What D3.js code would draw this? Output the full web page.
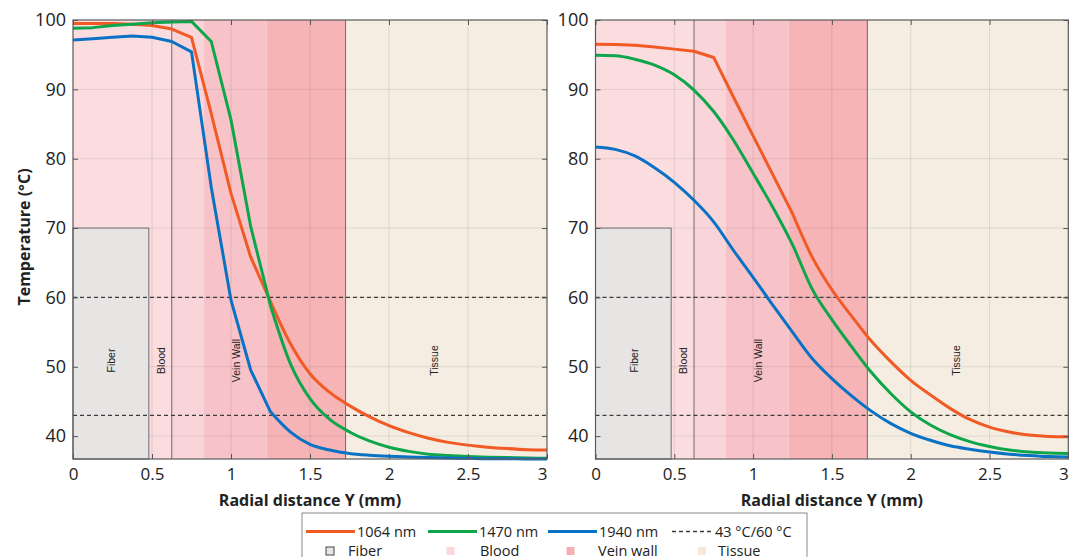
<!DOCTYPE html>
<html><head><meta charset="utf-8">
<script src="https://cdn.jsdelivr.net/npm/d3@7"></script>
<style>
html,body{margin:0;padding:0;background:#fff;}
svg{display:block;font-family:"Open Sans","Noto Sans",sans-serif;}
</style></head>
<body>
<svg id="c" width="1069" height="557"></svg>
<script>
// ---------- data ----------
const radialX = [0,0.125,0.25,0.375,0.5,0.625,0.75,0.875,1.0,1.125,1.25,1.375,1.5,1.625,1.75,1.875,2.0,2.125,2.25,2.375,2.5,2.625,2.75,2.875,3.0];
const seriesNames = ["1064 nm","1470 nm","1940 nm"];
// left panel
const left1064 = [99.5,99.5,99.5,99.4,99.2,98.7,97.5,86.5,75.0,65.8,59.4,53.4,49.0,46.3,44.4,42.8,41.5,40.5,39.7,39.1,38.7,38.4,38.2,38.05,38.0];
const left1470 = [98.8,98.9,99.2,99.4,99.6,99.7,99.8,96.9,85.6,70.2,58.8,50.5,45.4,42.4,40.6,39.3,38.4,37.8,37.4,37.2,37.05,36.95,36.9,36.85,36.8];
const left1940 = [97.1,97.3,97.5,97.7,97.5,96.9,95.4,75.9,59.6,49.5,43.5,40.6,38.8,38.0,37.5,37.25,37.1,37.0,36.9,36.85,36.8,36.75,36.75,36.7,36.7];
// right panel
const right1064 = [96.5,96.45,96.35,96.1,95.8,95.5,94.6,88.9,83.3,77.7,72.1,65.8,61.1,57.3,53.7,50.7,48.05,45.95,44.0,42.4,41.3,40.6,40.15,39.95,39.9];
const right1470 = [94.9,94.85,94.35,93.5,92.1,89.9,86.8,82.7,77.9,73.0,67.6,61.2,56.8,52.9,49.2,46.1,43.5,41.6,40.2,39.2,38.5,38.0,37.7,37.55,37.5];
const right1940 = [81.7,81.35,80.4,78.7,76.6,74.0,70.9,66.8,62.9,58.9,55.0,51.2,48.3,45.8,43.6,41.8,40.4,39.4,38.6,38.1,37.7,37.4,37.2,37.05,37.0];
// tissue layers (mm)
const regionStart = [0,0.625,0.825,1.225,1.725];
const regionEnd   = [0.625,0.825,1.225,1.725,3.0];
const fiberRadius = 0.48;
const fiberTop = 70;
const thresholds = [43,60];
const xTicks = [0,0.5,1,1.5,2,2.5,3];
const yTicks = [40,50,60,70,80,90,100];
const labelNames = ["Fiber","Blood","Vein Wall","Tissue"];
const labelPosX = [0.245,0.56,1.035,2.29];
const labelPosT = 50.9;
const legendLineNames = ["1064 nm","1470 nm","1940 nm","43 °C/60 °C"];
const legendAreaNames = ["Fiber","Blood","Vein wall","Tissue"];

// ---------- styles ----------
const lineColors = ["#f15a24","#0fa54a","#0a72c4"];
const regionColors = ["#fbdde0","#f9d5d9","#f7c3c8","#f6b4b7","#f5ede1"];
const fiberColor = "#e7e4e4";

const svg = d3.select("#c");
const y = d3.scaleLinear().domain([36.7,100]).range([459,20]);

function panel(x, data, smoothAll){
  const g = svg.append("g");
  const [x0,x1] = x.range();
  g.selectAll("rect.band").data(regionStart).enter().append("rect")
    .attr("x",(d)=>x(d)).attr("y",y(100))
    .attr("width",(d,i)=>x(regionEnd[i])-x(d)).attr("height",y(36.7)-y(100))
    .attr("fill",(d,i)=>regionColors[i]);
  g.selectAll("line.gx").data(xTicks.slice(1,-1)).enter().append("line")
    .attr("x1",d=>x(d)).attr("x2",d=>x(d)).attr("y1",y(100)).attr("y2",y(36.7))
    .attr("stroke","rgba(0,0,0,0.09)").attr("stroke-width",1);
  g.selectAll("line.gy").data(yTicks.slice(0,-1)).enter().append("line")
    .attr("x1",x0).attr("x2",x1).attr("y1",d=>y(d)).attr("y2",d=>y(d))
    .attr("stroke","rgba(0,0,0,0.09)").attr("stroke-width",1);
  g.append("rect").attr("x",x(0)).attr("y",y(fiberTop))
    .attr("width",x(fiberRadius)-x(0)).attr("height",y(36.7)-y(fiberTop))
    .attr("fill",fiberColor).attr("stroke","#6d6d6d").attr("stroke-width",1);
  [regionStart[1],regionStart[4]].forEach(b=>{
    g.append("line").attr("x1",x(b)).attr("x2",x(b)).attr("y1",y(100)).attr("y2",y(36.7))
      .attr("stroke","#6a6a6a").attr("stroke-width",1);
  });
  g.selectAll("text.rl").data(labelNames).enter().append("text")
    .attr("transform",(d,i)=>`translate(${x(labelPosX[i])+3.5},${y(labelPosT)}) rotate(-90)`)
    .attr("text-anchor","middle")
    .style("font-family","'Liberation Sans',Arial,sans-serif").style("font-size","10.5px")
    .attr("fill","#222").text(d=>d);
  g.selectAll("line.th").data(thresholds).enter().append("line")
    .attr("x1",x0).attr("x2",x1).attr("y1",d=>y(d)).attr("y2",d=>y(d))
    .attr("stroke","#3d3d3d").attr("stroke-width",1.2).attr("stroke-dasharray","4,3");
  // curves: polyline through the vessel, smooth through tissue
  const pts = s => s.map((v,i)=>[radialX[i],v]);
  const lin = d3.line().x(d=>x(d[0])).y(d=>y(d[1]));
  const smo = d3.line().x(d=>x(d[0])).y(d=>y(d[1])).curve(d3.curveMonotoneX);
  const split = 10;
  data.forEach((s,k)=>{
    const p = pts(s);
    let d;
    if (smoothAll[k]) d = smo(p);
    else d = lin(p.slice(0,split+1)) + smo(p.slice(split)).replace(/^M/,"L");
    g.append("path").attr("d",d).attr("fill","none")
      .attr("stroke",lineColors[k]).attr("stroke-width",3).attr("stroke-linejoin","round");
  });
  g.append("rect").attr("x",x0).attr("y",y(100)).attr("width",x1-x0).attr("height",y(36.7)-y(100))
    .attr("fill","none").attr("stroke","#5a5a5a").attr("stroke-width",1.2);
  const ax = d3.axisBottom(x).tickValues(xTicks).tickFormat(d3.format("~g"))
    .tickSizeInner(-5).tickSizeOuter(0).tickPadding(9);
  const gx = g.append("g").attr("transform",`translate(0,${y(36.7)})`).call(ax);
  gx.select(".domain").remove();
  gx.selectAll("text").style("font-size","17px").attr("fill","#222").style("font-family","'Open Sans',sans-serif");
  gx.selectAll("line").attr("stroke","#555");
  gx.selectAll(".tick").filter(d=>d===3).select("text").attr("x",-5);
  const axt = d3.axisTop(x).tickValues(xTicks).tickFormat("").tickSizeInner(-5).tickSizeOuter(0);
  const gxt = g.append("g").attr("transform",`translate(0,${y(100)})`).call(axt);
  gxt.select(".domain").remove(); gxt.selectAll("line").attr("stroke","#555");
  const ayl = d3.axisLeft(y).tickValues(yTicks).tickFormat(d3.format("d"))
    .tickSizeInner(-5).tickSizeOuter(0).tickPadding(7);
  const gy = g.append("g").attr("transform",`translate(${x0},0)`).call(ayl);
  gy.select(".domain").remove();
  gy.selectAll("text").style("font-size","18px").attr("fill","#222").style("font-family","'Open Sans',sans-serif");
  gy.selectAll("line").attr("stroke","#555");
  const ayr = d3.axisRight(y).tickValues(yTicks).tickFormat("").tickSizeInner(-5).tickSizeOuter(0);
  const gyr = g.append("g").attr("transform",`translate(${x1},0)`).call(ayr);
  gyr.select(".domain").remove(); gyr.selectAll("line").attr("stroke","#555");
  g.append("text").attr("x",(x0+x1)/2).attr("y",506).attr("text-anchor","middle")
    .style("font-size","16px").style("font-weight","bold").attr("fill","#222")
    .text("Radial distance Y (mm)");
}

const xL = d3.scaleLinear().domain([0,3]).range([73,547]);
const xR = d3.scaleLinear().domain([0,3]).range([595.5,1068.3]);
panel(xL,[left1064,left1470,left1940],[false,false,false]);
panel(xR,[right1064,right1470,right1940],[false,true,true]);

svg.append("text").attr("transform","translate(30,237) rotate(-90)").attr("text-anchor","middle")
  .style("font-size","16px").style("font-weight","bold").attr("fill","#222").text("Temperature (°C)");

// legend
const lg = svg.append("g");
lg.append("rect").attr("x",302).attr("y",513).attr("width",505).attr("height",60)
  .attr("fill","#fff").attr("stroke","#8a8a8a").attr("stroke-width",1);
const lineX = [306,428,548,672];
const lineColorsLeg = [lineColors[0],lineColors[1],lineColors[2],"#3d3d3d"];
legendLineNames.forEach((n,i)=>{
  lg.append("line").attr("x1",lineX[i]).attr("x2",lineX[i]+(i<3?49:41)).attr("y1",531.5).attr("y2",531.5)
    .attr("stroke",lineColorsLeg[i]).attr("stroke-width",i<3?3:1.3)
    .attr("stroke-dasharray",i<3?null:"4,3");
  lg.append("text").attr("x",lineX[i]+(i<3?51:43)).attr("y",531.5).attr("dy","0.35em")
    .style("font-size","14.5px").attr("fill","#222").text(n);
});
const sqX = [326,446.5,566.5,698];
const sqColors = [fiberColor,"#fbd8dc","#f6b0b5","#f5e9da"];
const txX = [348,480,598,718];
legendAreaNames.forEach((n,i)=>{
  lg.append("rect").attr("x",sqX[i]).attr("y",547).attr("width",8).attr("height",8)
    .attr("fill",sqColors[i]).attr("stroke",i===0?"#444":"none").attr("stroke-width",1);
  lg.append("text").attr("x",txX[i]).attr("y",551).attr("dy","0.35em")
    .style("font-size","14.5px").attr("fill","#222").text(n);
});
</script>
</body></html>
